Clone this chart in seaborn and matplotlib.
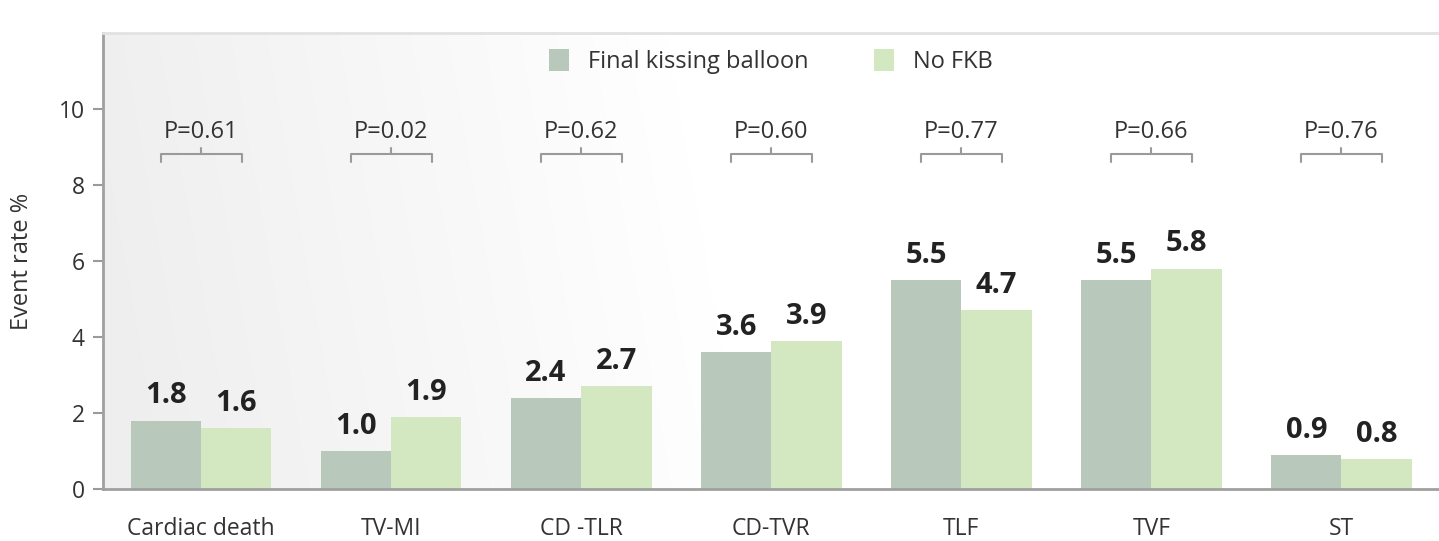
import numpy as np
import pandas as pd
import matplotlib.pyplot as plt
import seaborn as sns

categories = ['Cardiac death', 'TV-MI', 'CD -TLR', 'CD-TVR', 'TLF', 'TVF', 'ST']
fkb = [1.8, 1.0, 2.4, 3.6, 5.5, 5.5, 0.9]
no_fkb = [1.6, 1.9, 2.7, 3.9, 4.7, 5.8, 0.8]
p_values = ['P=0.61', 'P=0.02', 'P=0.62', 'P=0.60', 'P=0.77', 'P=0.66', 'P=0.76']
groups = ['Final kissing balloon', 'No FKB']
colors = ['#b8c9bb', '#d3e8c0']


def build_frame():
    """ Long form table for seaborn. """
    rows = []
    for cat, a, b in zip(categories, fkb, no_fkb):
        rows.append({'outcome': cat, 'group': groups[0], 'rate': a})
        rows.append({'outcome': cat, 'group': groups[1], 'rate': b})
    return pd.DataFrame(rows)


def draw_background(ax):
    """ Light gray to white gradient behind the bars. """
    xs = np.linspace(0, 1, 400)
    ys = np.linspace(0, 1, 200)
    X, Y = np.meshgrid(xs, ys)
    t = np.clip((X + 0.06 * (Y - 0.5)) / 0.45, 0, 1)
    g = 0.935 + 0.065 * t
    img = np.dstack([g, g, g])
    ax.imshow(img, extent=[0, 1, 0, 1], origin='lower', transform=ax.transAxes,
              aspect='auto', zorder=-5, interpolation='bilinear')


def main():
    sns.set_style('white')
    plt.rcParams['font.family'] = ['Open Sans', 'DejaVu Sans']

    df = build_frame()
    fig = plt.figure(figsize=(14.39, 5.41), dpi=100)
    ax = fig.add_axes([0.0716, 0.0961, 0.928, 0.843])
    draw_background(ax)

    sns.barplot(data=df, x='outcome', y='rate', hue='group', palette=colors,
                width=0.74, saturation=1, ax=ax, legend=True, zorder=2,
                linewidth=0)

    # value labels above bars
    for cont in ax.containers:
        for bar in cont:
            h = bar.get_height()
            ax.text(bar.get_x() + bar.get_width() / 2, h + 0.45, f'{h:.1f}',
                    ha='center', va='baseline', fontsize=21, fontweight='bold',
                    color='#222222')

    # p-value brackets
    for i, p in enumerate(p_values):
        ax.plot([i - 0.213, i - 0.213, i + 0.213, i + 0.213],
                [8.6, 8.82, 8.82, 8.6], color='#9a9a9a', lw=1.5, zorder=3)
        ax.plot([i, i], [8.82, 8.96], color='#9a9a9a', lw=1.5, zorder=3)
        ax.text(i, 9.4, p, ha='center', va='center', fontsize=17, color='#333333')

    ax.set_xlim(-0.516, 6.51)
    ax.set_ylim(0, 12)
    ax.set_yticks([0, 2, 4, 6, 8, 10])
    ax.set_xlabel('')
    ax.set_ylabel('Event rate %', fontsize=17, color='#333333', labelpad=18)
    ax.tick_params(axis='y', length=7, width=1.5, color='#9a9a9a', labelsize=16.5,
                   labelcolor='#333333', pad=6, left=True)
    ax.tick_params(axis='x', length=0, labelsize=16.5, labelcolor='#333333', pad=20)

    for side in ['left', 'bottom']:
        ax.spines[side].set_color('#a0a0a0')
        ax.spines[side].set_linewidth(2)
    ax.spines['top'].set_color('#e2e2e2')
    ax.spines['top'].set_linewidth(2)
    ax.spines['right'].set_visible(False)

    handles, labels = ax.get_legend_handles_labels()
    ax.legend(handles, labels, loc='upper center', bbox_to_anchor=(0.5, 1.0),
              ncol=2, frameon=False, fontsize=17, handlelength=0.85,
              handleheight=1.0, handletextpad=0.8, columnspacing=2.8,
              labelcolor='#333333', borderaxespad=0.3)

    plt.savefig('out.png', dpi=100)


if __name__ == "__main__":
    main()
